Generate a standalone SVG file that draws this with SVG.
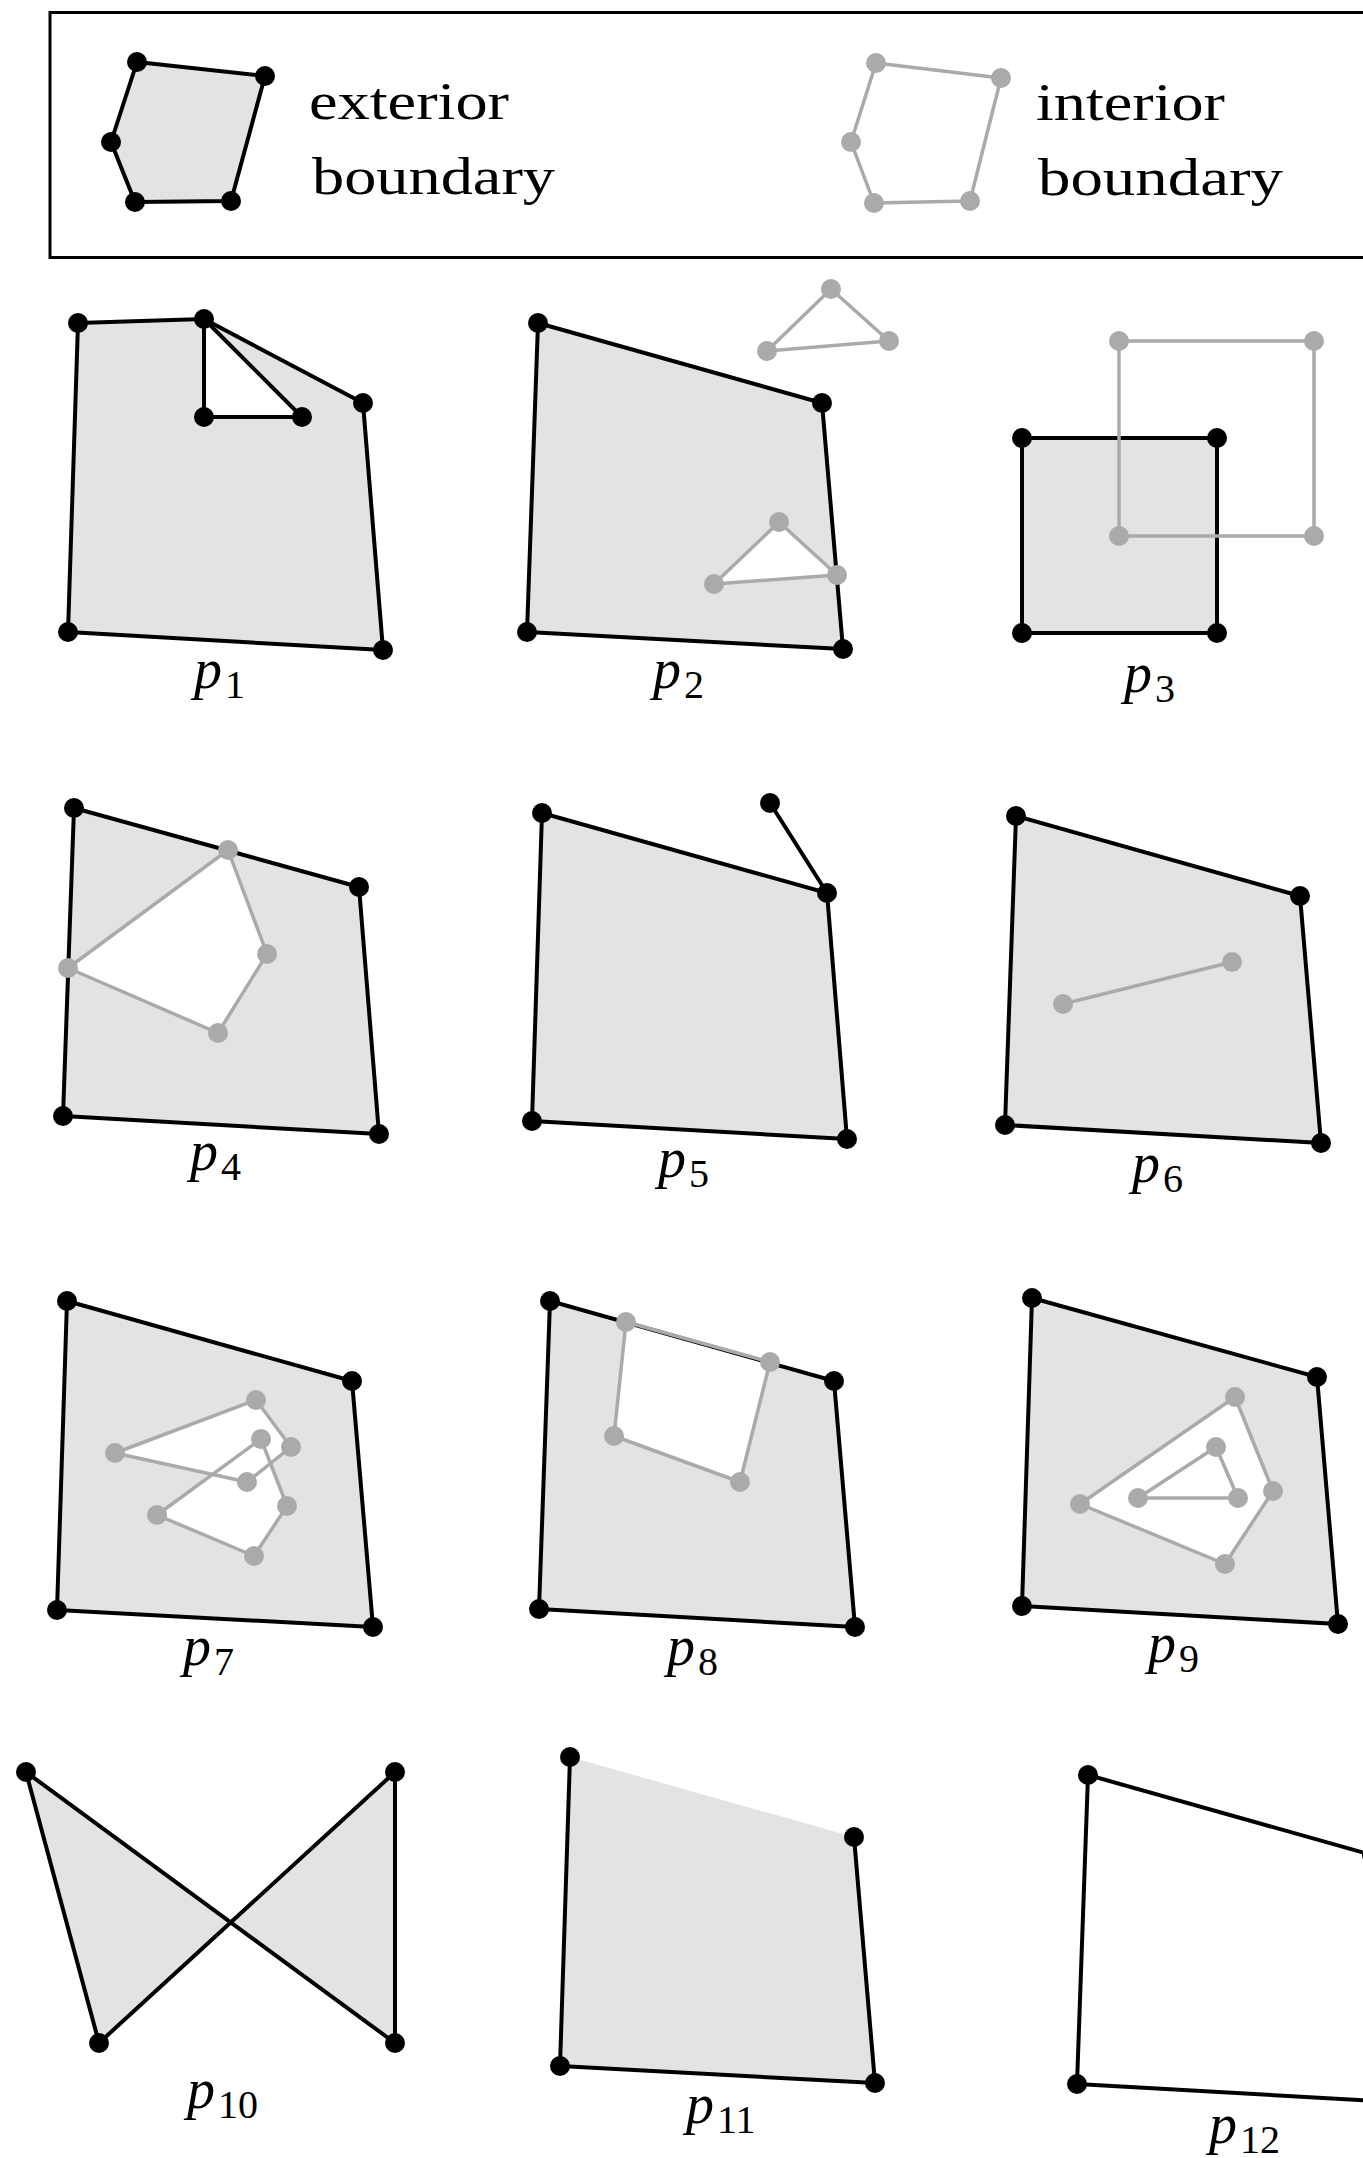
<svg xmlns="http://www.w3.org/2000/svg" width="1363" height="2158" viewBox="0 0 1363 2158">
<style>
.bg{fill:#fff}
.fill{fill:#e3e3e3;stroke:none}
.hole{fill:#fff;stroke:none}
.ext{fill:none;stroke:#000;stroke-width:4;stroke-linejoin:round;stroke-linecap:round}
.int{fill:none;stroke:#aaa;stroke-width:3.5;stroke-linejoin:round;stroke-linecap:round}
.v{fill:#000}
.g{fill:#aaa}
.lbl{font-family:"Liberation Serif","Times New Roman",serif;font-size:56px;fill:#000}
.sub{font-size:40px;font-style:normal}
.lg{font-family:"Liberation Serif","Times New Roman",serif;font-size:52px;fill:#000}
</style>
<rect class="bg" x="0" y="0" width="1363" height="2158"/>

<g id="legend">
  <rect x="50" y="12.5" width="1400" height="245" fill="none" stroke="#000" stroke-width="3"/>
  <g id="legend-exterior">
    <polygon class="fill" points="137,62 265,76 231,201 135,202 111,142"/>
    <polygon class="ext" points="137,62 265,76 231,201 135,202 111,142"/>
    <circle class="v" cx="137" cy="62" r="10"/><circle class="v" cx="265" cy="76" r="10"/>
    <circle class="v" cx="231" cy="201" r="10"/><circle class="v" cx="135" cy="202" r="10"/>
    <circle class="v" cx="111" cy="142" r="10"/>
    <text class="lg" x="309" y="119" textLength="200" lengthAdjust="spacingAndGlyphs">exterior</text>
    <text class="lg" x="312" y="194" textLength="243" lengthAdjust="spacingAndGlyphs">boundary</text>
  </g>
  <g id="legend-interior">
    <polygon class="int" points="876,63 1001,78 970,201 874,203 851,142"/>
    <circle class="g" cx="876" cy="63" r="10"/><circle class="g" cx="1001" cy="78" r="10"/>
    <circle class="g" cx="970" cy="201" r="10"/><circle class="g" cx="874" cy="203" r="10"/>
    <circle class="g" cx="851" cy="142" r="10"/>
    <text class="lg" x="1036" y="120" textLength="189" lengthAdjust="spacingAndGlyphs">interior</text>
    <text class="lg" x="1038" y="195" textLength="245" lengthAdjust="spacingAndGlyphs">boundary</text>
  </g>
</g>

<g id="p1">
  <polygon class="fill" points="78,323 204,319 363,403 383,650 68,632"/>
  <polygon class="hole" points="204,319 302,417 204,417"/>
  <polygon class="ext" points="78,323 204,319 363,403 383,650 68,632"/>
  <polygon class="ext" points="204,319 302,417 204,417"/>
  <circle class="v" cx="78" cy="323" r="10"/><circle class="v" cx="204" cy="319" r="10"/>
  <circle class="v" cx="363" cy="403" r="10"/><circle class="v" cx="383" cy="650" r="10"/>
  <circle class="v" cx="68" cy="632" r="10"/><circle class="v" cx="204" cy="417" r="10"/>
  <circle class="v" cx="302" cy="417" r="10"/>
  <text class="lbl" x="194" y="688"><tspan font-style="italic">p</tspan><tspan class="sub" dx="3" dy="10">1</tspan></text>
</g>

<g id="p2">
  <polygon class="fill" points="538,323 822,403 843,649 527,632"/>
  <polygon class="hole" points="779,522 837,575 714,584"/>
  <polygon class="ext" points="538,323 822,403 843,649 527,632"/>
  <circle class="v" cx="538" cy="323" r="10"/><circle class="v" cx="822" cy="403" r="10"/>
  <circle class="v" cx="843" cy="649" r="10"/><circle class="v" cx="527" cy="632" r="10"/>
  <polygon class="int" points="831,289 889,341 767,351"/>
  <polygon class="int" points="779,522 837,575 714,584"/>
  <circle class="g" cx="831" cy="289" r="10"/><circle class="g" cx="889" cy="341" r="10"/>
  <circle class="g" cx="767" cy="351" r="10"/>
  <circle class="g" cx="779" cy="522" r="10"/><circle class="g" cx="837" cy="575" r="10"/>
  <circle class="g" cx="714" cy="584" r="10"/>
  <text class="lbl" x="653" y="688"><tspan font-style="italic">p</tspan><tspan class="sub" dx="3" dy="10">2</tspan></text>
</g>

<g id="p3">
  <rect class="fill" x="1022" y="438" width="195" height="195"/>
  <rect class="ext" x="1022" y="438" width="195" height="195"/>
  <circle class="v" cx="1022" cy="438" r="10"/><circle class="v" cx="1217" cy="438" r="10"/>
  <circle class="v" cx="1217" cy="633" r="10"/><circle class="v" cx="1022" cy="633" r="10"/>
  <rect class="int" x="1119" y="341" width="195" height="195"/>
  <circle class="g" cx="1119" cy="341" r="10"/><circle class="g" cx="1314" cy="341" r="10"/>
  <circle class="g" cx="1314" cy="536" r="10"/><circle class="g" cx="1119" cy="536" r="10"/>
  <text class="lbl" x="1124" y="692"><tspan font-style="italic">p</tspan><tspan class="sub" dx="3" dy="10">3</tspan></text>
</g>

<g id="p4">
  <polygon class="fill" points="74,808 359,887 379,1134 63,1116"/>
  <polygon class="hole" points="228,850 267,954 218,1033 68,968"/>
  <polygon class="ext" points="74,808 359,887 379,1134 63,1116"/>
  <circle class="v" cx="74" cy="808" r="10"/><circle class="v" cx="359" cy="887" r="10"/>
  <circle class="v" cx="379" cy="1134" r="10"/><circle class="v" cx="63" cy="1116" r="10"/>
  <polygon class="int" points="228,850 267,954 218,1033 68,968"/>
  <circle class="g" cx="228" cy="850" r="10"/><circle class="g" cx="267" cy="954" r="10"/>
  <circle class="g" cx="218" cy="1033" r="10"/><circle class="g" cx="68" cy="968" r="10"/>
  <text class="lbl" x="190" y="1170"><tspan font-style="italic">p</tspan><tspan class="sub" dx="3" dy="10">4</tspan></text>
</g>

<g id="p5">
  <polygon class="fill" points="542,813 827,893 847,1139 532,1121"/>
  <polygon class="ext" points="542,813 827,893 847,1139 532,1121"/>
  <line class="ext" x1="827" y1="893" x2="770" y2="803"/>
  <circle class="v" cx="542" cy="813" r="10"/><circle class="v" cx="827" cy="893" r="10"/>
  <circle class="v" cx="847" cy="1139" r="10"/><circle class="v" cx="532" cy="1121" r="10"/>
  <circle class="v" cx="770" cy="803" r="10"/>
  <text class="lbl" x="658" y="1177"><tspan font-style="italic">p</tspan><tspan class="sub" dx="3" dy="10">5</tspan></text>
</g>

<g id="p6">
  <polygon class="fill" points="1016,816 1300,896 1321,1143 1005,1125"/>
  <polygon class="ext" points="1016,816 1300,896 1321,1143 1005,1125"/>
  <circle class="v" cx="1016" cy="816" r="10"/><circle class="v" cx="1300" cy="896" r="10"/>
  <circle class="v" cx="1321" cy="1143" r="10"/><circle class="v" cx="1005" cy="1125" r="10"/>
  <line class="int" x1="1063" y1="1004" x2="1232" y2="962"/>
  <circle class="g" cx="1063" cy="1004" r="10"/><circle class="g" cx="1232" cy="962" r="10"/>
  <text class="lbl" x="1132" y="1182"><tspan font-style="italic">p</tspan><tspan class="sub" dx="3" dy="10">6</tspan></text>
</g>

<g id="p7">
  <polygon class="fill" points="67,1301 352,1381 373,1627 57,1610"/>
  <polygon class="hole" points="115,1453 256,1400 291,1447 247,1482"/>
  <polygon class="hole" points="157,1515 261,1439 287,1506 254,1556"/>
  <polygon class="ext" points="67,1301 352,1381 373,1627 57,1610"/>
  <circle class="v" cx="67" cy="1301" r="10"/><circle class="v" cx="352" cy="1381" r="10"/>
  <circle class="v" cx="373" cy="1627" r="10"/><circle class="v" cx="57" cy="1610" r="10"/>
  <polygon class="int" points="115,1453 256,1400 291,1447 247,1482"/>
  <polygon class="int" points="157,1515 261,1439 287,1506 254,1556"/>
  <circle class="g" cx="115" cy="1453" r="10"/><circle class="g" cx="256" cy="1400" r="10"/>
  <circle class="g" cx="291" cy="1447" r="10"/><circle class="g" cx="247" cy="1482" r="10"/>
  <circle class="g" cx="157" cy="1515" r="10"/><circle class="g" cx="261" cy="1439" r="10"/>
  <circle class="g" cx="287" cy="1506" r="10"/><circle class="g" cx="254" cy="1556" r="10"/>
  <text class="lbl" x="183" y="1665"><tspan font-style="italic">p</tspan><tspan class="sub" dx="3" dy="10">7</tspan></text>
</g>

<g id="p8">
  <polygon class="fill" points="550,1301 834,1381 855,1627 539,1609"/>
  <polygon class="hole" points="626,1322 770,1362 740,1482 614,1436"/>
  <polygon class="ext" points="550,1301 834,1381 855,1627 539,1609"/>
  <circle class="v" cx="550" cy="1301" r="10"/><circle class="v" cx="834" cy="1381" r="10"/>
  <circle class="v" cx="855" cy="1627" r="10"/><circle class="v" cx="539" cy="1609" r="10"/>
  <polygon class="int" points="626,1322 770,1362 740,1482 614,1436"/>
  <circle class="g" cx="626" cy="1322" r="10"/><circle class="g" cx="770" cy="1362" r="10"/>
  <circle class="g" cx="740" cy="1482" r="10"/><circle class="g" cx="614" cy="1436" r="10"/>
  <text class="lbl" x="667" y="1665"><tspan font-style="italic">p</tspan><tspan class="sub" dx="3" dy="10">8</tspan></text>
</g>

<g id="p9">
  <polygon class="fill" points="1032,1298 1317,1377 1338,1624 1022,1606"/>
  <polygon class="hole" points="1235,1397 1273,1491 1225,1564 1080,1504"/>
  <polygon class="ext" points="1032,1298 1317,1377 1338,1624 1022,1606"/>
  <circle class="v" cx="1032" cy="1298" r="10"/><circle class="v" cx="1317" cy="1377" r="10"/>
  <circle class="v" cx="1338" cy="1624" r="10"/><circle class="v" cx="1022" cy="1606" r="10"/>
  <polygon class="int" points="1235,1397 1273,1491 1225,1564 1080,1504"/>
  <polygon class="int" points="1216,1447 1238,1498 1138,1498"/>
  <circle class="g" cx="1235" cy="1397" r="10"/><circle class="g" cx="1273" cy="1491" r="10"/>
  <circle class="g" cx="1225" cy="1564" r="10"/><circle class="g" cx="1080" cy="1504" r="10"/>
  <circle class="g" cx="1216" cy="1447" r="10"/><circle class="g" cx="1238" cy="1498" r="10"/>
  <circle class="g" cx="1138" cy="1498" r="10"/>
  <text class="lbl" x="1148" y="1662"><tspan font-style="italic">p</tspan><tspan class="sub" dx="3" dy="10">9</tspan></text>
</g>

<g id="p10">
  <polygon class="fill" points="26,1772 99,2043 395,1772 395,2043"/>
  <polygon class="ext" points="26,1772 99,2043 395,1772 395,2043"/>
  <circle class="v" cx="26" cy="1772" r="10"/><circle class="v" cx="99" cy="2043" r="10"/>
  <circle class="v" cx="395" cy="1772" r="10"/><circle class="v" cx="395" cy="2043" r="10"/>
  <text class="lbl" x="187" y="2108"><tspan font-style="italic">p</tspan><tspan class="sub" dx="3" dy="10">10</tspan></text>
</g>

<g id="p11">
  <polygon class="fill" points="570,1757 854,1837 875,2083 560,2066"/>
  <polyline class="ext" points="570,1757 560,2066 875,2083 854,1837"/>
  <circle class="v" cx="570" cy="1757" r="10"/><circle class="v" cx="854" cy="1837" r="10"/>
  <circle class="v" cx="875" cy="2083" r="10"/><circle class="v" cx="560" cy="2066" r="10"/>
  <text class="lbl" x="686" y="2123"><tspan font-style="italic">p</tspan><tspan class="sub" dx="3" dy="10">11</tspan></text>
</g>

<g id="p12">
  <polygon class="ext" points="1088,1775 1372,1855 1393,2102 1077,2084"/>
  <circle class="v" cx="1088" cy="1775" r="10"/><circle class="v" cx="1372" cy="1855" r="10"/>
  <circle class="v" cx="1393" cy="2102" r="10"/><circle class="v" cx="1077" cy="2084" r="10"/>
  <text class="lbl" x="1209" y="2143"><tspan font-style="italic">p</tspan><tspan class="sub" dx="3" dy="10">12</tspan></text>
</g>

<g id="connectors"/>
</svg>
